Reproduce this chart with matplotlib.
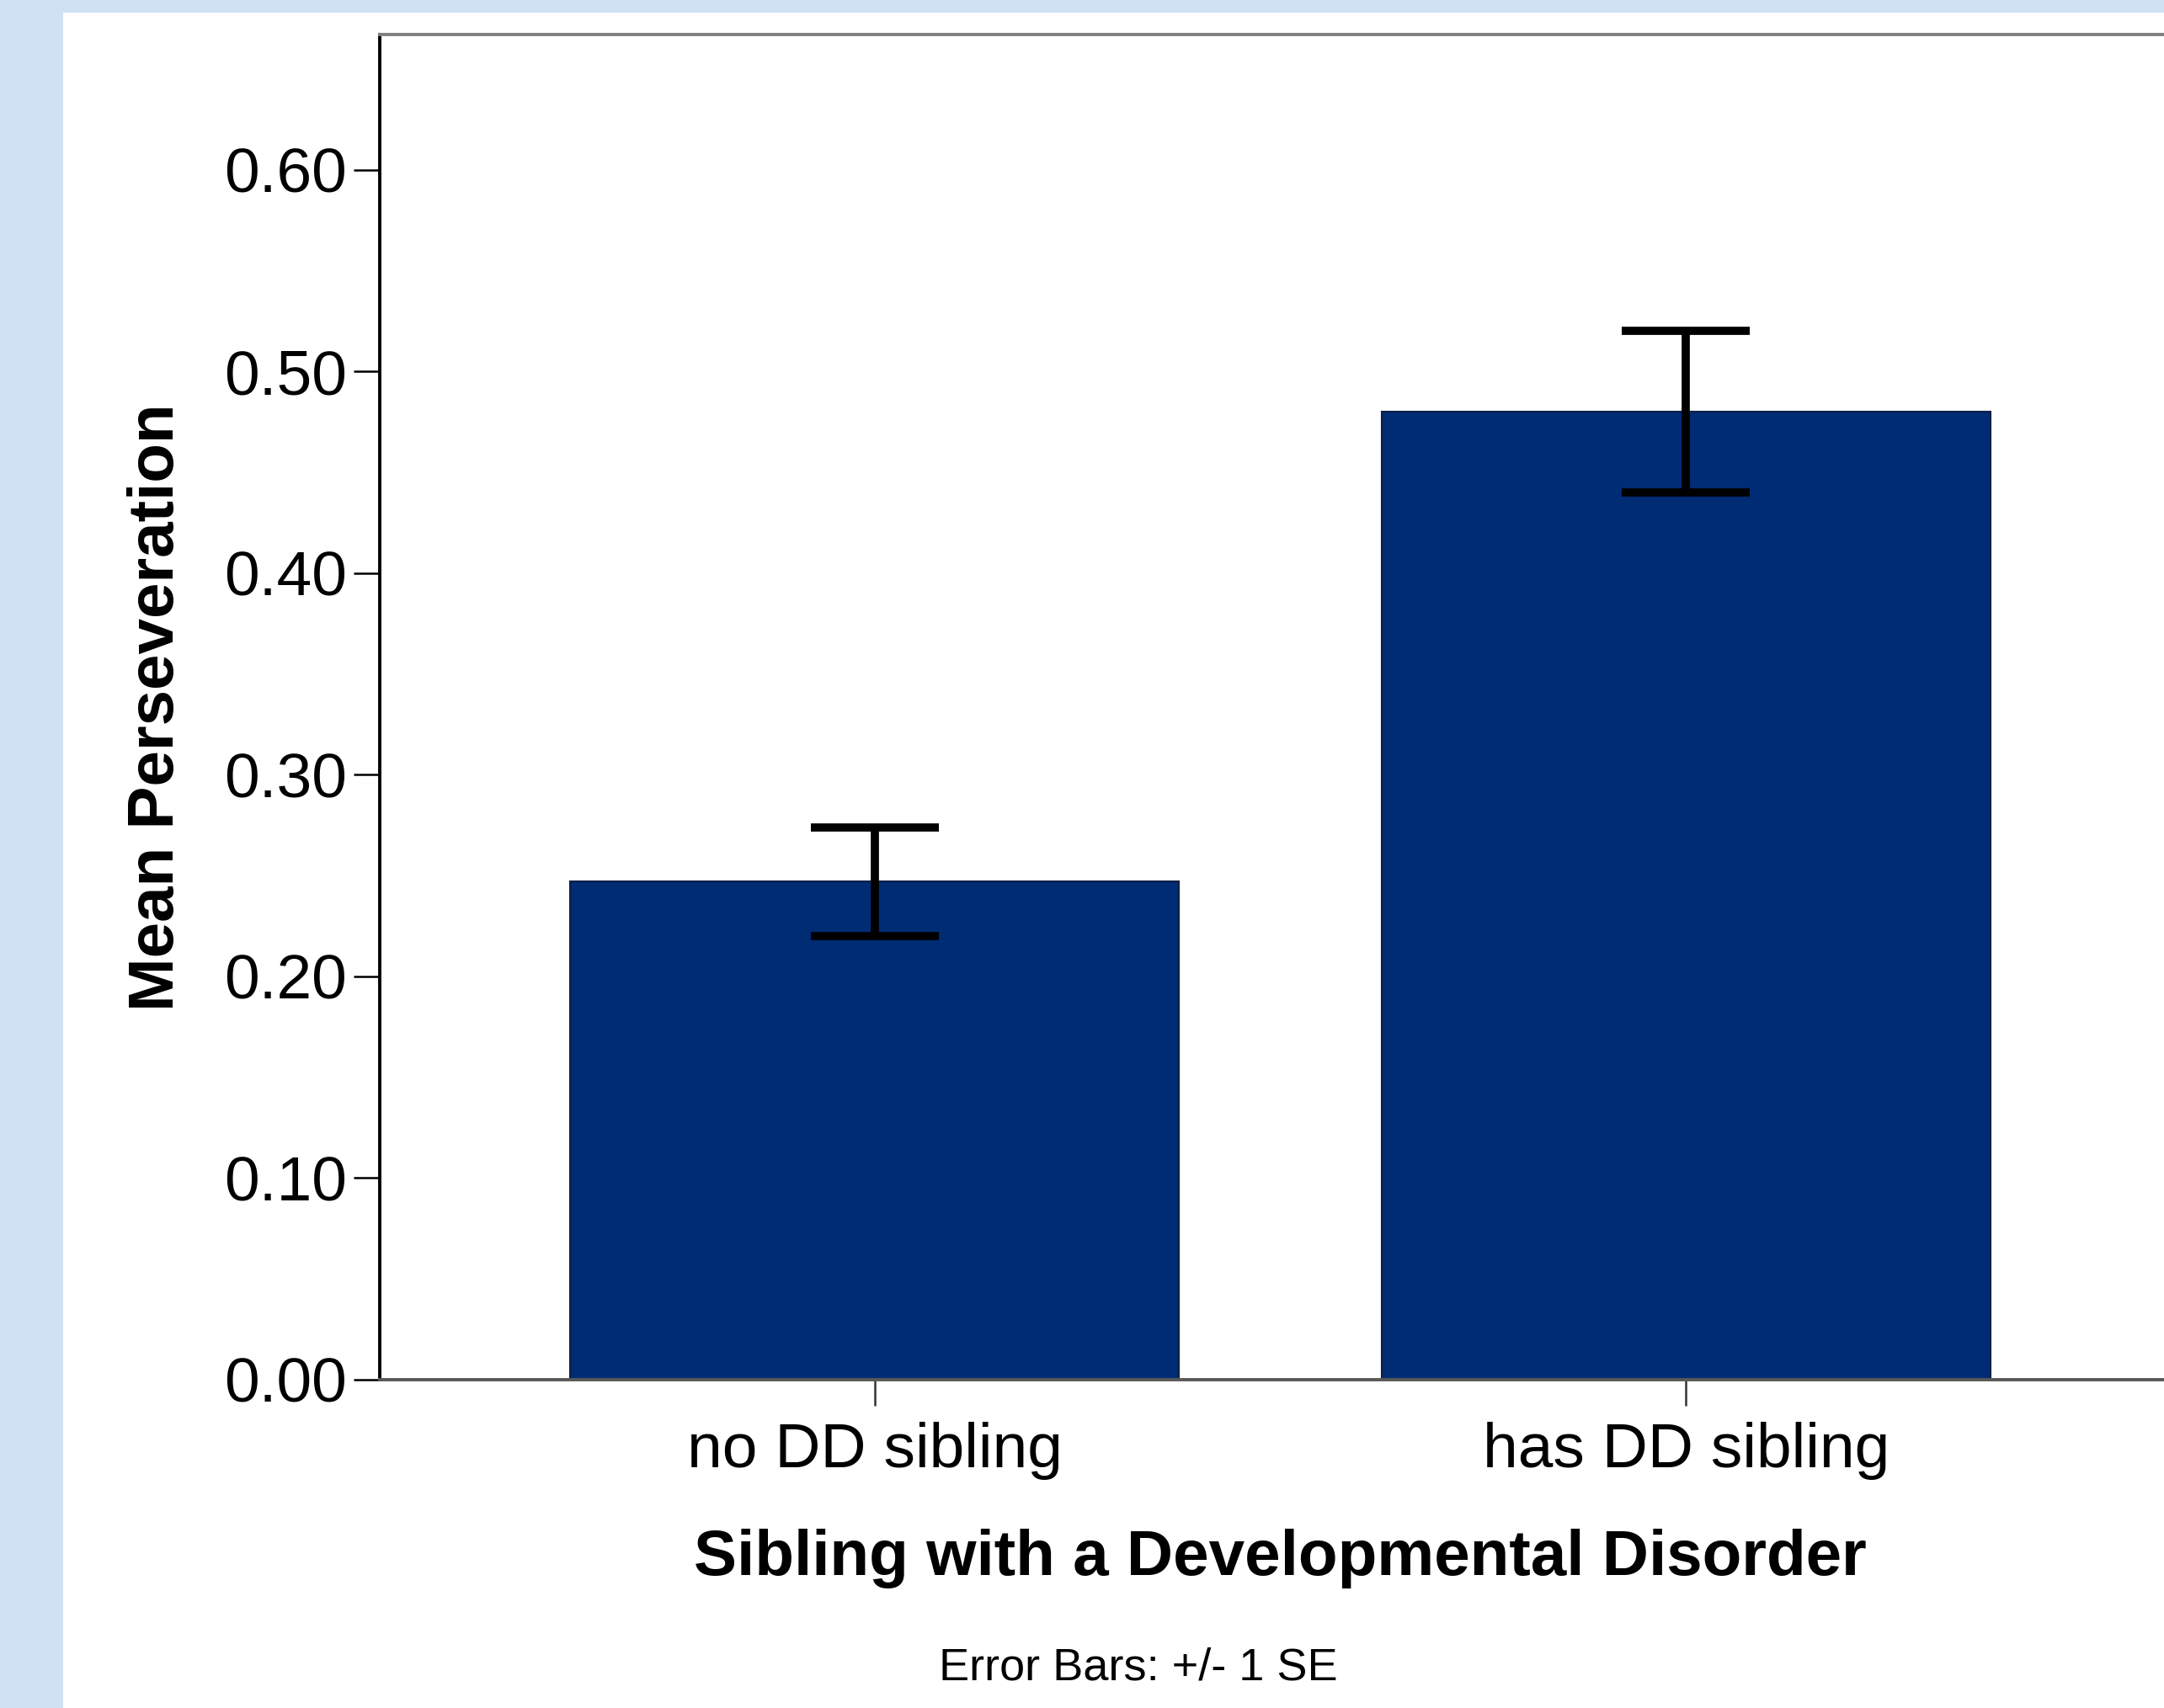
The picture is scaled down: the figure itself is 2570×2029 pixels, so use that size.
import matplotlib
matplotlib.use('Agg')
import matplotlib.pyplot as plt
from matplotlib.patches import Rectangle

categories = ['no DD sibling', 'has DD sibling']
means = [0.247, 0.480]
se = [0.027, 0.040]
yticks = [0.0, 0.1, 0.2, 0.3, 0.4, 0.5, 0.6]

plt.rcParams['font.family'] = ['Liberation Sans', 'DejaVu Sans']

W, H = 2570, 2029
fig = plt.figure(figsize=(W / 100, H / 100), dpi=100, facecolor='#cfe2f3')

# white panel inside the light blue frame
fig.patches.append(Rectangle((75 / W, 0), 1 - 75 / W, 1 - 15 / H,
                             transform=fig.transFigure, facecolor='white',
                             edgecolor='none', zorder=-10))

ax = fig.add_axes([451 / W, 1 - 1639 / H, 2139 / W, (1639 - 41) / H])
ax.set_facecolor('white')

x = list(range(len(categories)))
ax.bar(x, means, width=0.75, color='#002c74', edgecolor='#0d1f45',
       linewidth=1.5, zorder=2)
ax.errorbar(x, means, yerr=se, fmt='none', ecolor='black', elinewidth=7,
            capsize=55, capthick=7, zorder=3)

ax.set_xlim(-0.61, 1.61)
ax.set_ylim(0, 0.667)
ax.set_yticks(yticks)
ax.set_yticklabels([f'{v:.2f}' for v in yticks])
ax.set_xticks(x)
ax.set_xticklabels(categories)

ax.tick_params(axis='y', length=22, width=1.8, color='black', pad=6,
               labelsize=54)
ax.tick_params(axis='x', length=22, width=1.8, color='#333333', pad=14,
               labelsize=54)

ax.spines['left'].set_color('black')
ax.spines['left'].set_linewidth(2.8)
ax.spines['top'].set_color('#808080')
ax.spines['top'].set_linewidth(2.8)
ax.spines['bottom'].set_color('#595959')
ax.spines['bottom'].set_linewidth(2.8)
ax.spines['right'].set_visible(False)

ax.set_xlabel('Sibling with a Developmental Disorder', fontsize=55,
              fontweight='bold', labelpad=42)
ax.set_ylabel('Mean Perseveration', fontsize=55, fontweight='bold',
              labelpad=32)

fig.text(1352 / W, 1 - 1981 / H, 'Error Bars: +/- 1 SE', fontsize=39,
         ha='center', va='center')

fig.savefig('out.png', dpi=100, facecolor=fig.get_facecolor())
